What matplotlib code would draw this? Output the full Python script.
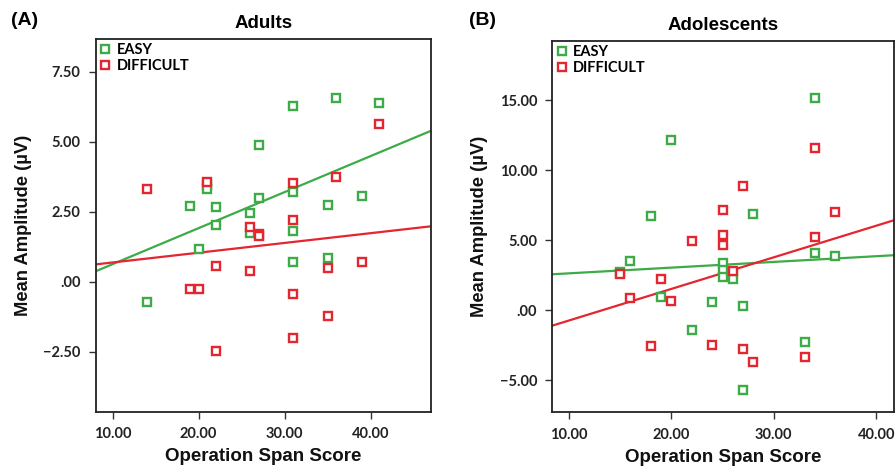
import numpy as np
import matplotlib
matplotlib.use("Agg")
import matplotlib.pyplot as plt
from matplotlib.ticker import FuncFormatter

# ---------------- data ----------------
adult_easy_x = [31, 36, 41, 27, 21, 21, 19, 22, 26, 27, 31, 35, 39, 22, 26, 31, 20, 31, 35, 14]
adult_easy_y = [6.28, 6.57, 6.38, 4.89, 3.45, 3.30, 2.69, 2.67, 2.46, 2.99, 3.19, 2.74, 3.07, 2.04,
                1.73, 1.83, 1.16, 0.70, 0.85, -0.72]
adult_diff_x = [41, 14, 21, 31, 36, 31, 26, 27, 27, 22, 26, 35, 39, 19, 20, 31, 35, 31, 22]
adult_diff_y = [5.62, 3.31, 3.57, 3.54, 3.75, 2.20, 1.96, 1.70, 1.62, 0.58, 0.37, 0.48, 0.71,
                -0.24, -0.24, -0.44, -1.21, -1.99, -2.48]

adol_easy_x = [34, 20, 18, 28, 16, 15, 25, 25, 25, 26, 34, 36, 19, 24, 27, 22, 33, 27]
adol_easy_y = [15.14, 12.16, 6.74, 6.90, 3.52, 2.76, 3.40, 2.88, 2.36, 2.26, 4.07, 3.88, 0.93,
               0.59, 0.33, -1.38, -2.24, -5.69]
adol_diff_x = [34, 27, 25, 36, 22, 25, 25, 34, 15, 26, 19, 16, 20, 18, 24, 27, 28, 33]
adol_diff_y = [11.59, 8.86, 7.14, 7.02, 4.93, 5.40, 4.69, 5.21, 2.57, 2.78, 2.24, 0.88, 0.66,
               -2.57, -2.48, -2.76, -3.71, -3.34]

# fit lines as drawn in the figure: (intercept, slope)
adult_easy_fit = (-0.657, 0.1287)
adult_diff_fit = (0.341, 0.0349)
adol_easy_fit = (2.229, 0.0408)
adol_diff_fit = (-2.989, 0.2257)

series_labels = ["EASY", "DIFFICULT"]
panel_titles = ["Adults", "Adolescents"]
panel_letters = ["(A)", "(B)"]
x_ticks = [10, 20, 30, 40]
adult_y_ticks = [-2.5, 0, 2.5, 5.0, 7.5]
adol_y_ticks = [-5, 0, 5, 10, 15]

GREEN = "#3dab47"
RED = "#e3262f"
FONT = ["Lato", "DejaVu Sans"]
LABEL_FONT = ["Liberation Sans", "DejaVu Sans"]
TITLE_FONT = ["Liberation Sans Narrow", "Liberation Sans", "DejaVu Sans"]

plt.rcParams['font.family'] = FONT


def fmt(v, pos=None):
    s = f"{abs(v):.2f}"
    if s.startswith("0"):
        s = s[1:]
    return ("\u2212" + s) if v < 0 else s


fig = plt.figure(figsize=(8.96, 4.74), dpi=100)
ax1 = fig.add_axes([0.1071, 0.1308, 0.3739, 0.7869])
ax2 = fig.add_axes([0.6164, 0.1302, 0.3814, 0.7840])

panels = [
    (ax1, adult_easy_x, adult_easy_y, adult_diff_x, adult_diff_y, adult_easy_fit, adult_diff_fit,
     (8.06, 47.0), (-4.65, 8.67), adult_y_ticks),
    (ax2, adol_easy_x, adol_easy_y, adol_diff_x, adol_diff_y, adol_easy_fit, adol_diff_fit,
     (8.37, 41.74), (-7.29, 19.26), adol_y_ticks),
]

for i, (ax, ex, ey, dx, dy, efit, dfit, xl, yl, yt) in enumerate(panels):
    ax.set_xlim(*xl)
    ax.set_ylim(*yl)
    xs = np.array(xl)
    for (x, y, c, lab) in [(ex, ey, GREEN, series_labels[0]), (dx, dy, RED, series_labels[1])]:
        ax.plot(x, y, linestyle="none", marker="s", markersize=6.4, markerfacecolor="white",
                markeredgecolor=c, markeredgewidth=1.7, label=lab, zorder=3)
    for (fit, c) in [(efit, GREEN), (dfit, RED)]:
        b, m = fit
        ax.plot(xs, b + m * xs, color=c, linewidth=1.6, zorder=2)
    ax.set_xticks(x_ticks)
    ax.set_yticks(yt)
    ax.xaxis.set_major_formatter(FuncFormatter(fmt))
    ax.yaxis.set_major_formatter(FuncFormatter(fmt))
    ax.tick_params(axis="both", direction="out", length=5, width=1, color="#333333",
                   labelsize=10.5, pad=6)
    for lbl in ax.get_xticklabels() + ax.get_yticklabels():
        lbl.set_fontweight("bold")
        lbl.set_color("#222222")
    for sp in ax.spines.values():
        sp.set_linewidth(1.3)
        sp.set_color("#222222")
    ax.set_xlabel("Operation Span Score", fontsize=13.5, fontweight="bold", family=LABEL_FONT,
                  labelpad=5, color="#111111")
    ax.set_ylabel("Mean Amplitude (\u00b5V)", fontsize=13.2, fontweight="bold", family=LABEL_FONT,
                  labelpad=8, color="#111111")
    ax.set_title(panel_titles[i], fontsize=13.5, fontweight="bold", family=TITLE_FONT, pad=8)
    leg = ax.legend(loc="upper left", frameon=False, handlelength=0.7,
                    handletextpad=0.4, borderaxespad=0.0, borderpad=0.3, labelspacing=0.12,
                    prop={"weight": "bold", "size": 10.5})

fig.text(0.012, 0.957, panel_letters[0], fontsize=14, fontweight="bold", family=TITLE_FONT, va="center")
fig.text(0.523, 0.957, panel_letters[1], fontsize=14, fontweight="bold", family=TITLE_FONT, va="center")

fig.savefig("out.png", dpi=100)
